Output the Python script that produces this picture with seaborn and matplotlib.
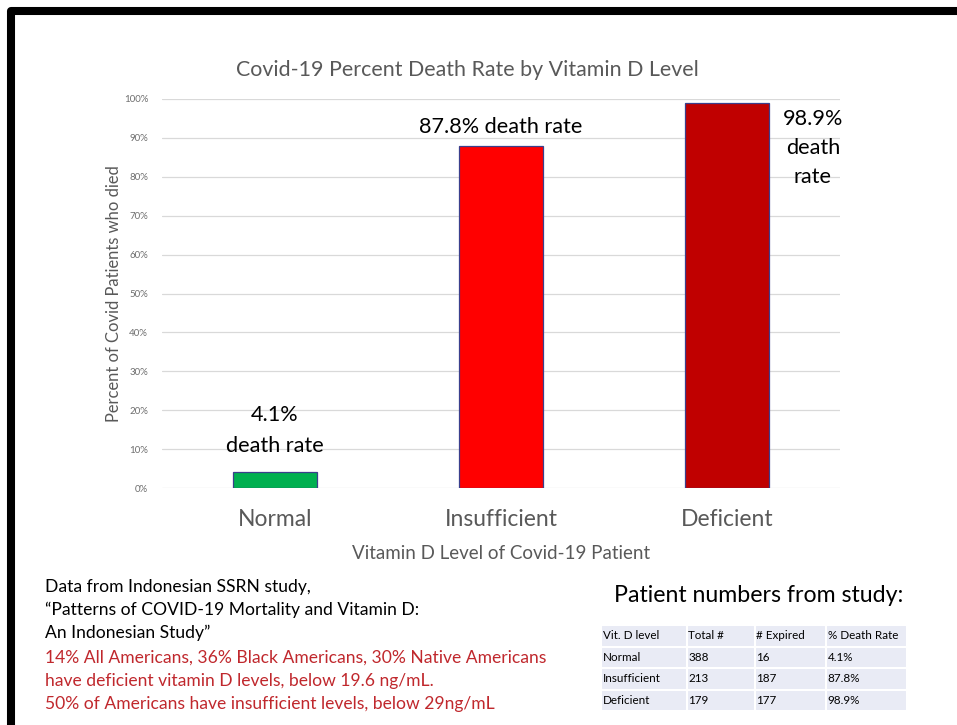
import matplotlib
matplotlib.use("Agg")
import matplotlib.pyplot as plt
from matplotlib.lines import Line2D
from matplotlib.ticker import PercentFormatter
import seaborn as sns
import pandas as pd

# Data
levels = ["Normal", "Insufficient", "Deficient"]
death_rate = [4.1, 87.8, 98.9]
bar_colors = ["#00B050", "#FF0000", "#C00000"]
bar_labels = ["4.1%\ndeath rate", "87.8% death rate", "98.9%\ndeath\nrate"]

table_header = ["Vit. D level", "Total #", "# Expired", "% Death Rate"]
table_total = [388, 213, 179]
table_expired = [16, 187, 177]

source_lines = [
    "Data from Indonesian SSRN study,",
    "\u201cPatterns of COVID-19 Mortality and Vitamin D:",
    "An Indonesian Study\u201d",
]
note_lines = [
    "14% All Americans, 36% Black Americans, 30% Native Americans",
    "have deficient vitamin D levels, below 19.6 ng/mL.",
    "50% of Americans have insufficient levels, below 29ng/mL",
]

sns.set_style("white")
plt.rcParams["font.family"] = ["Lato", "DejaVu Sans"]

W, H = 957, 725
fig = plt.figure(figsize=(W / 100, H / 100), dpi=100)
fig.patch.set_facecolor("white")

def fx(px):
    return px / W

def fy(py):
    return 1 - py / H

# black frame (only top and left edges fall inside the picture)
frame = Line2D([fx(11), fx(11), fx(1100)], [fy(900), fy(11), fy(11)],
               transform=fig.transFigure, color="black", linewidth=5.8,
               solid_joinstyle="round")
fig.lines.append(frame)

ax = fig.add_axes([fx(162), fy(488), fx(840) - fx(162), fy(99) - fy(488)])
df = pd.DataFrame({"level": levels, "rate": death_rate})
sns.barplot(data=df, x="level", y="rate", hue="level",
            palette=dict(zip(levels, bar_colors)), saturation=1, width=0.375,
            edgecolor="#3B3F8C", linewidth=0.9, legend=False, ax=ax)

ax.set_ylim(0, 100)
ax.set_xlim(-0.5, 2.5)
ax.set_yticks(range(0, 101, 10))
ax.yaxis.set_major_formatter(PercentFormatter(decimals=0))
ax.grid(axis="y", color="#D9D9D9", linewidth=0.9)
ax.set_axisbelow(True)
for s in ax.spines.values():
    s.set_visible(False)
ax.tick_params(axis="y", labelsize=7, colors="#6E6E6E", length=0, pad=10)
ax.tick_params(axis="x", labelsize=16.5, colors="#595959", length=0, pad=15)

fig.text(fx(467), fy(70), "Covid-19 Percent Death Rate by Vitamin D Level",
         fontsize=15.4, color="#595959", ha="center", va="center")
ax.set_xlabel("Vitamin D Level of Covid-19 Patient", fontsize=13.5,
              color="#595959", labelpad=11)
ax.set_ylabel("Percent of Covid Patients who died", fontsize=11.9,
              color="#595959", labelpad=1)

# bar annotations
ax.text(0, 14.8, bar_labels[0], ha="center", va="center",
        fontsize=15.6, color="black", linespacing=1.65)
ax.text(1, 92.8, bar_labels[1], ha="center", va="center",
        fontsize=15.6, color="black")
ax.text(2.38, 87.4, bar_labels[2], ha="center", va="center",
        fontsize=15.6, color="black", linespacing=1.55)

# source text
for i, line in enumerate(source_lines):
    fig.text(fx(45), fy(587 + 23 * i), line, fontsize=12.6, color="black",
             va="center", ha="left")
for i, line in enumerate(note_lines):
    fig.text(fx(45), fy(658 + 23 * i), line, fontsize=12.6, color="#C0282D",
             va="center", ha="left")

# patient table
fig.text(fx(759), fy(596), "Patient numbers from study:", fontsize=16.7,
         color="black", ha="center", va="center")
tab_ax = fig.add_axes([fx(601), fy(711), fx(907) - fx(601), fy(625) - fy(711)])
tab_ax.axis("off")
rows = [table_header]
for lv, tot, exp, r in zip(levels, table_total, table_expired, death_rate):
    rows.append([lv, str(tot), str(exp), f"{r}%"])
tbl = tab_ax.table(cellText=rows, cellLoc="left", loc="center",
                   colWidths=[85, 67, 71, 80], bbox=[0, 0, 1, 1])
tbl.auto_set_font_size(False)
for (r, c), cell in tbl.get_celld().items():
    cell.set_facecolor("#E9EBF5")
    cell.set_edgecolor("white")
    cell.set_linewidth(1.5)
    cell.get_text().set_fontsize(8.4)
    cell.get_text().set_color("black")
    cell.PAD = 0.02

fig.savefig("out.png", dpi=100, facecolor="white")
